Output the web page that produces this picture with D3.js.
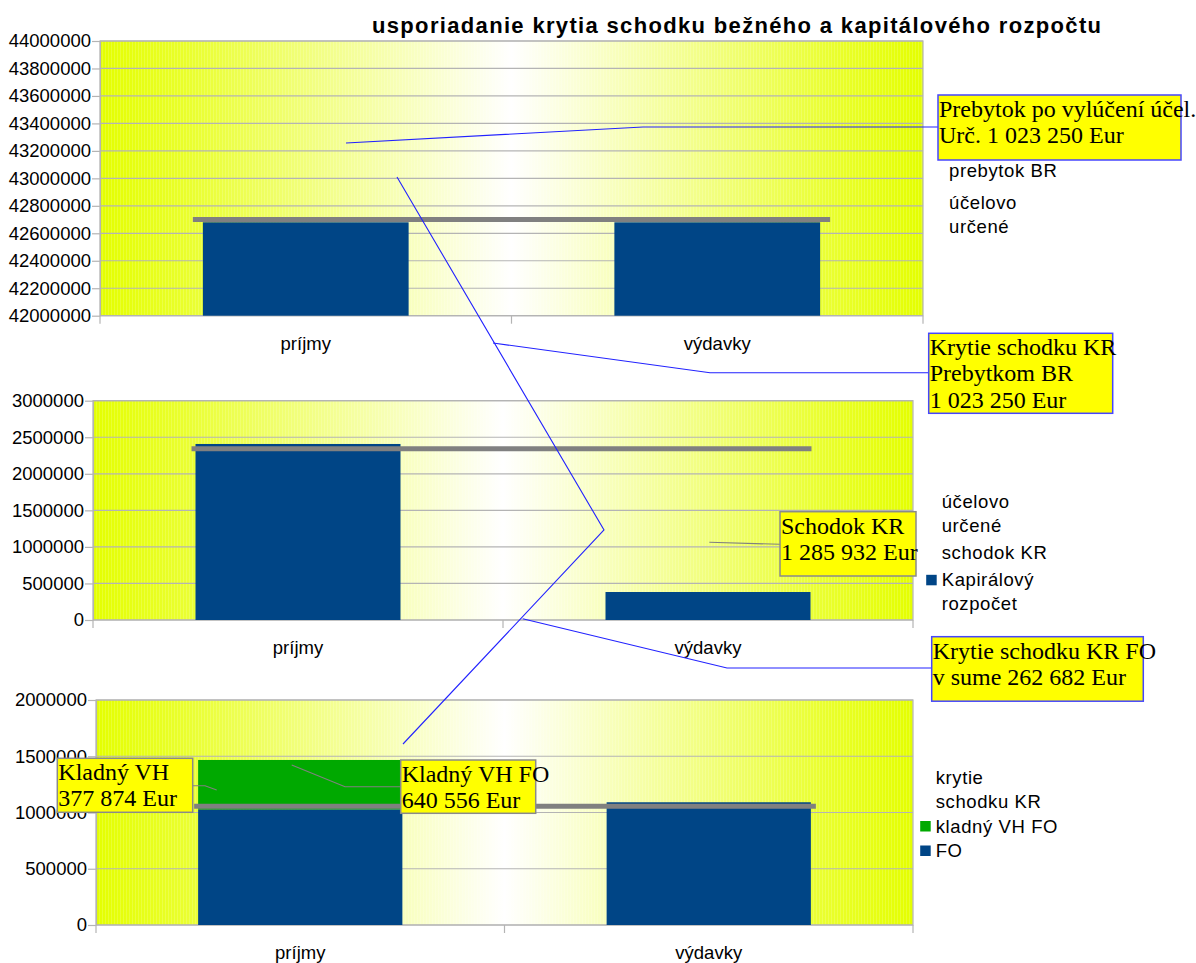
<!DOCTYPE html>
<html>
<head>
<meta charset="utf-8">
<script src="https://cdn.jsdelivr.net/npm/d3@7"></script>
<style>
  body { margin: 0; background: #fff; }
  svg { display: block; }
  text { font-family: "Liberation Sans", Arial, sans-serif; fill: #000; }
  .serif { font-family: "Liberation Serif", "Times New Roman", serif; }
</style>
</head>
<body>
<svg id="chart" width="1196" height="963"></svg>
<script>
// ---- data ----
const categories = ["príjmy", "výdavky"];

// bežný rozpočet
const bezneStlpce = [42680000, 42680000];
const bezneUrcene = [42700000, 42700000];
const bezneTicks = d3.range(42000000, 44000001, 200000);

// kapitálový rozpočet
const kapitaloveStlpce = [2408000, 383000];
const kapitaloveUrcene = [2343000, 2343000];
const kapitaloveTicks = d3.range(0, 3000001, 500000);

// krytie schodku KR
const foStlpce = [1028000, 1091000];
const kladnyVhFo = [439000, 0];
const foKrytie = [1055000, 1055000];
const foTicks = d3.range(0, 2000001, 500000);

// legend entries (swatch colour, label lines)
const legendBezne = [
  { color: null, lines: ["prebytok BR"] },
  { color: null, lines: ["účelovo", "určené"] }
];
const legendKapitalove = [
  { color: null, lines: ["účelovo", "určené"] },
  { color: null, lines: ["schodok KR"] },
  { color: "#004586", lines: ["Kapirálový", "rozpočet"] }
];
const legendFo = [
  { color: null, lines: ["krytie", "schodku KR"] },
  { color: "#00a900", lines: ["kladný VH FO"] },
  { color: "#004586", lines: ["FO"] }
];

const titleText = "usporiadanie krytia schodku bežného a kapitálového rozpočtu";

// ---- styles ----
const BLUE = "#004586", GREEN = "#00a900", GRAY_LINE = "#808080";
const GRID = "#b4b4b4";

const panels = [
  { x0: 100, x1: 923, top: 41, bottom: 315.7, domain: [42000000, 44000000], ticks: bezneTicks,
    stacks: [{ values: bezneStlpce, color: BLUE }], line: bezneUrcene, over: [10, 10],
    legend: { x: 949, y: 176.7, gap: 8.6, items: legendBezne } },
  { x0: 93, x1: 913, top: 400.7, bottom: 620, domain: [0, 3000000], ticks: kapitaloveTicks,
    stacks: [{ values: kapitaloveStlpce, color: BLUE }], line: kapitaloveUrcene, over: [4, 1],
    legend: { x: 941.7, y: 508.3, gap: 3, items: legendKapitalove } },
  { x0: 96, x1: 913, top: 700, bottom: 925, domain: [0, 2000000], ticks: foTicks,
    stacks: [{ values: foStlpce, color: BLUE }, { values: kladnyVhFo, color: GREEN }], line: foKrytie, over: [4, 5],
    legend: { x: 935.7, y: 784, gap: 0.5, items: legendFo } }
];

// callout boxes drawn over the charts
const callouts = [
  { lines: ["Prebytok po vylúčení účel.", "Urč. 1 023 250 Eur"], box: [938, 95, 243, 65], border: "#4646ff",
    leader: [[346, 143], [643, 127], [938, 127]], leaderColor: "#2222ff" },
  { lines: ["Krytie schodku KR", "Prebytkom BR", "1 023 250 Eur"], box: [928.7, 333.3, 184, 80], border: "#4646ff",
    leader: [[493, 343], [710, 372.7], [928.7, 372.7]], leaderColor: "#2222ff" },
  { lines: ["Schodok KR", "1 285 932 Eur"], box: [780, 511.7, 136, 64.3], border: "#8a8a8a",
    leader: [[709.3, 542.3], [780, 544.3]], leaderColor: "#808080" },
  { lines: ["Krytie schodku KR FO", "v sume 262 682 Eur"], box: [931.7, 636.7, 211.6, 64.5], border: "#4646ff",
    leader: [[522.7, 618.7], [727, 668], [931.7, 668]], leaderColor: "#2222ff" },
  { lines: ["Kladný VH", "377 874 Eur"], box: [57.3, 758.3, 135.4, 54], border: "#8a8a8a",
    leader: [[192.7, 785.7], [205, 785.7], [216.7, 790]], leaderColor: "#808080" },
  { lines: ["Kladný VH FO", "640 556 Eur"], box: [400.7, 760, 135, 53.3], border: "#8a8a8a",
    leader: [[291.7, 765], [345, 786.7], [400.7, 786.7]], leaderColor: "#808080" }
];
const spojnica = [[397, 177], [604, 530], [403, 744]];

// ---- drawing ----
const svg = d3.select("#chart");
const defs = svg.append("defs");

const grad = defs.append("linearGradient").attr("id", "bg").attr("x1", 0).attr("x2", 1).attr("y1", 0).attr("y2", 0);
[[0, "#e4ff00"], [0.1, "#e9ff2a"], [0.28, "#f3ff8c"], [0.5, "#ffffff"], [0.72, "#f3ff8c"], [0.9, "#e9ff2a"], [1, "#e4ff00"]]
  .forEach(([o, c]) => grad.append("stop").attr("offset", o).attr("stop-color", c));

const stripes = defs.append("pattern").attr("id", "stripes").attr("patternUnits", "userSpaceOnUse")
  .attr("width", 3).attr("height", 10);
stripes.append("rect").attr("x", 0).attr("y", 0).attr("width", 1).attr("height", 10)
  .attr("fill", "#ffffff").attr("opacity", 0.16);

// title
svg.append("text")
  .attr("x", 372).attr("y", 33)
  .attr("font-size", 22).attr("font-weight", "bold")
  .attr("textLength", 729).attr("lengthAdjust", "spacing")
  .text(titleText);

panels.forEach(p => {
  const g = svg.append("g");
  const w = p.x1 - p.x0;
  const y = d3.scaleLinear().domain(p.domain).range([p.bottom, p.top]);
  const xCat = d3.scaleBand().domain(categories).range([p.x0, p.x1]);
  const xBar = xCat.copy().paddingInner(0.5).paddingOuter(0.25);

  // plot background
  g.append("rect").attr("x", p.x0).attr("y", p.top).attr("width", w).attr("height", p.bottom - p.top)
    .attr("fill", "url(#bg)");
  g.append("rect").attr("x", p.x0).attr("y", p.top).attr("width", w).attr("height", p.bottom - p.top)
    .attr("fill", "url(#stripes)");

  // horizontal grid
  g.selectAll(".grid").data(p.ticks).join("line")
    .attr("x1", p.x0).attr("x2", p.x1)
    .attr("y1", d => y(d)).attr("y2", d => y(d))
    .attr("stroke", GRID).attr("stroke-width", 1.2);

  // plot frame
  g.append("rect").attr("x", p.x0).attr("y", p.top).attr("width", w).attr("height", p.bottom - p.top)
    .attr("fill", "none").attr("stroke", GRID).attr("stroke-width", 1.2);

  // stacked bars, clipped to the bottom of the value axis
  const cum = categories.map(() => 0);
  p.stacks.forEach(s => {
    const rows = categories.map((c, i) => {
      const lo = cum[i], hi = cum[i] + s.values[i];
      cum[i] = hi;
      return { c, lo: Math.max(lo, p.domain[0]), hi };
    });
    g.selectAll(null).data(rows.filter(r => r.hi > r.lo)).join("rect")
      .attr("x", d => xBar(d.c)).attr("width", xBar.bandwidth())
      .attr("y", d => y(d.hi)).attr("height", d => y(d.lo) - y(d.hi))
      .attr("fill", s.color);
  });

  // earmarked level line
  const xl0 = xBar(categories[0]) - p.over[0];
  const xl1 = xBar(categories[categories.length - 1]) + xBar.bandwidth() + p.over[1];
  g.append("path")
    .attr("d", d3.line()([[xl0, y(p.line[0])], [xl1, y(p.line[p.line.length - 1])]]))
    .attr("stroke", GRAY_LINE).attr("stroke-width", 5).attr("fill", "none");

  // y axis
  const yAxis = g.append("g").attr("transform", `translate(${p.x0},0)`)
    .call(d3.axisLeft(y).tickValues(p.ticks).tickSize(8).tickSizeOuter(0).tickPadding(1).tickFormat(d3.format("d")));
  yAxis.select(".domain").attr("stroke", GRID).attr("stroke-width", 1.2);
  yAxis.selectAll(".tick line").attr("stroke", GRID).attr("stroke-width", 1.2);
  yAxis.selectAll(".tick text").attr("font-size", 18.5).attr("fill", "#000")
    .attr("font-family", "'Liberation Sans', Arial, sans-serif");

  // x axis: tick marks at category boundaries and centred labels
  const bounds = categories.map(c => xCat(c)).concat([p.x1]);
  g.selectAll(null).data(bounds).join("line")
    .attr("x1", d => d).attr("x2", d => d)
    .attr("y1", p.bottom).attr("y2", p.bottom + 8)
    .attr("stroke", GRID).attr("stroke-width", 1.2);
  g.selectAll(null).data(categories).join("text")
    .attr("x", d => xCat(d) + xCat.bandwidth() / 2)
    .attr("y", p.bottom + 34)
    .attr("text-anchor", "middle").attr("font-size", 18.5)
    .text(d => d);

  // legend
  let ly = p.legend.y;
  p.legend.items.forEach(item => {
    if (item.color) {
      g.append("rect").attr("x", p.legend.x - 15.5).attr("y", ly - 11.5)
        .attr("width", 10.5).attr("height", 10.5).attr("fill", item.color);
    }
    item.lines.forEach(t => {
      g.append("text").attr("x", p.legend.x).attr("y", ly)
        .attr("font-size", 18.5).attr("letter-spacing", 0.6).text(t);
      ly += 24;
    });
    ly += p.legend.gap;
  });
});

// connector spanning the three charts
svg.append("path").attr("d", d3.line()(spojnica))
  .attr("fill", "none").attr("stroke", "#2222ff").attr("stroke-width", 1.1);

// callout leaders and boxes
callouts.forEach(c => {
  svg.append("path").attr("d", d3.line()(c.leader))
    .attr("fill", "none").attr("stroke", c.leaderColor).attr("stroke-width", 1.1);
});
callouts.forEach(c => {
  const [bx, by, bw, bh] = c.box;
  svg.append("rect").attr("x", bx).attr("y", by).attr("width", bw).attr("height", bh)
    .attr("fill", "#ffff00").attr("stroke", c.border).attr("stroke-width", 1.5);
  c.lines.forEach((t, i) => {
    svg.append("text").attr("class", "serif")
      .attr("x", bx + 1).attr("y", by + 21.8 + i * 26.2)
      .attr("font-size", 24).text(t);
  });
});
</script>
</body>
</html>
